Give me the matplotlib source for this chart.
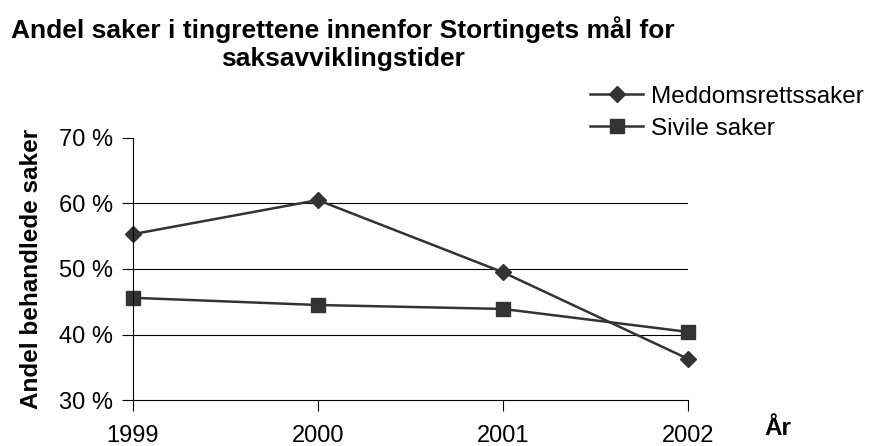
import matplotlib
matplotlib.use("Agg")
import matplotlib.pyplot as plt
from matplotlib.ticker import FuncFormatter

plt.rcParams['font.family'] = ['Liberation Sans', 'DejaVu Sans']

years = [1999, 2000, 2001, 2002]
meddom = [55.3, 60.5, 49.5, 36.3]
sivile = [45.6, 44.5, 43.9, 40.4]
series_names = ["Meddomsrettssaker", "Sivile saker"]
yticks = [30, 40, 50, 60, 70]

fig = plt.figure(figsize=(8.74, 4.46), dpi=100)
ax = fig.add_axes([0.152, 0.103, 0.635, 0.588])
col = '#333333'
ax.plot(years, meddom, color=col, lw=1.8, marker='D', ms=8.5, label=series_names[0], clip_on=False)
ax.plot(years, sivile, color=col, lw=1.8, marker='s', ms=10.5, label=series_names[1], clip_on=False)
ax.set_xlim(1999, 2002)
ax.set_ylim(30, 70)
ax.set_xticks(years)
ax.set_yticks(yticks)
ax.yaxis.set_major_formatter(FuncFormatter(lambda v, p: f"{int(v)} %"))
for g in [40, 50, 60]:
    ax.axhline(g, color='black', lw=0.8, zorder=0)
for s in ['top', 'right']:
    ax.spines[s].set_visible(False)
ax.spines['left'].set_linewidth(0.8)
ax.spines['bottom'].set_linewidth(0.8)
ax.tick_params(axis='both', labelsize=17, length=8, width=0.8, direction='out')
ax.tick_params(axis='x', pad=10)
ax.tick_params(axis='y', pad=6)
ax.set_ylabel("Andel behandlede saker", fontsize=17.5, fontweight='bold', labelpad=12)
fig.text(0.89, 0.04, "År", fontsize=17.5, fontweight='bold', ha='center', va='center')
fig.text(0.392, 0.902, "Andel saker i tingrettene innenfor Stortingets mål for\nsaksavviklingstider",
         fontsize=19, fontweight='bold', ha='center', va='center', linespacing=1.23)
fig.legend(loc='upper left', bbox_to_anchor=(0.675, 0.808), frameon=False, fontsize=17.5,
           handlelength=2.2, handletextpad=0.3, labelspacing=0.42, borderaxespad=0, borderpad=0)
fig.savefig("out.png", dpi=100)
